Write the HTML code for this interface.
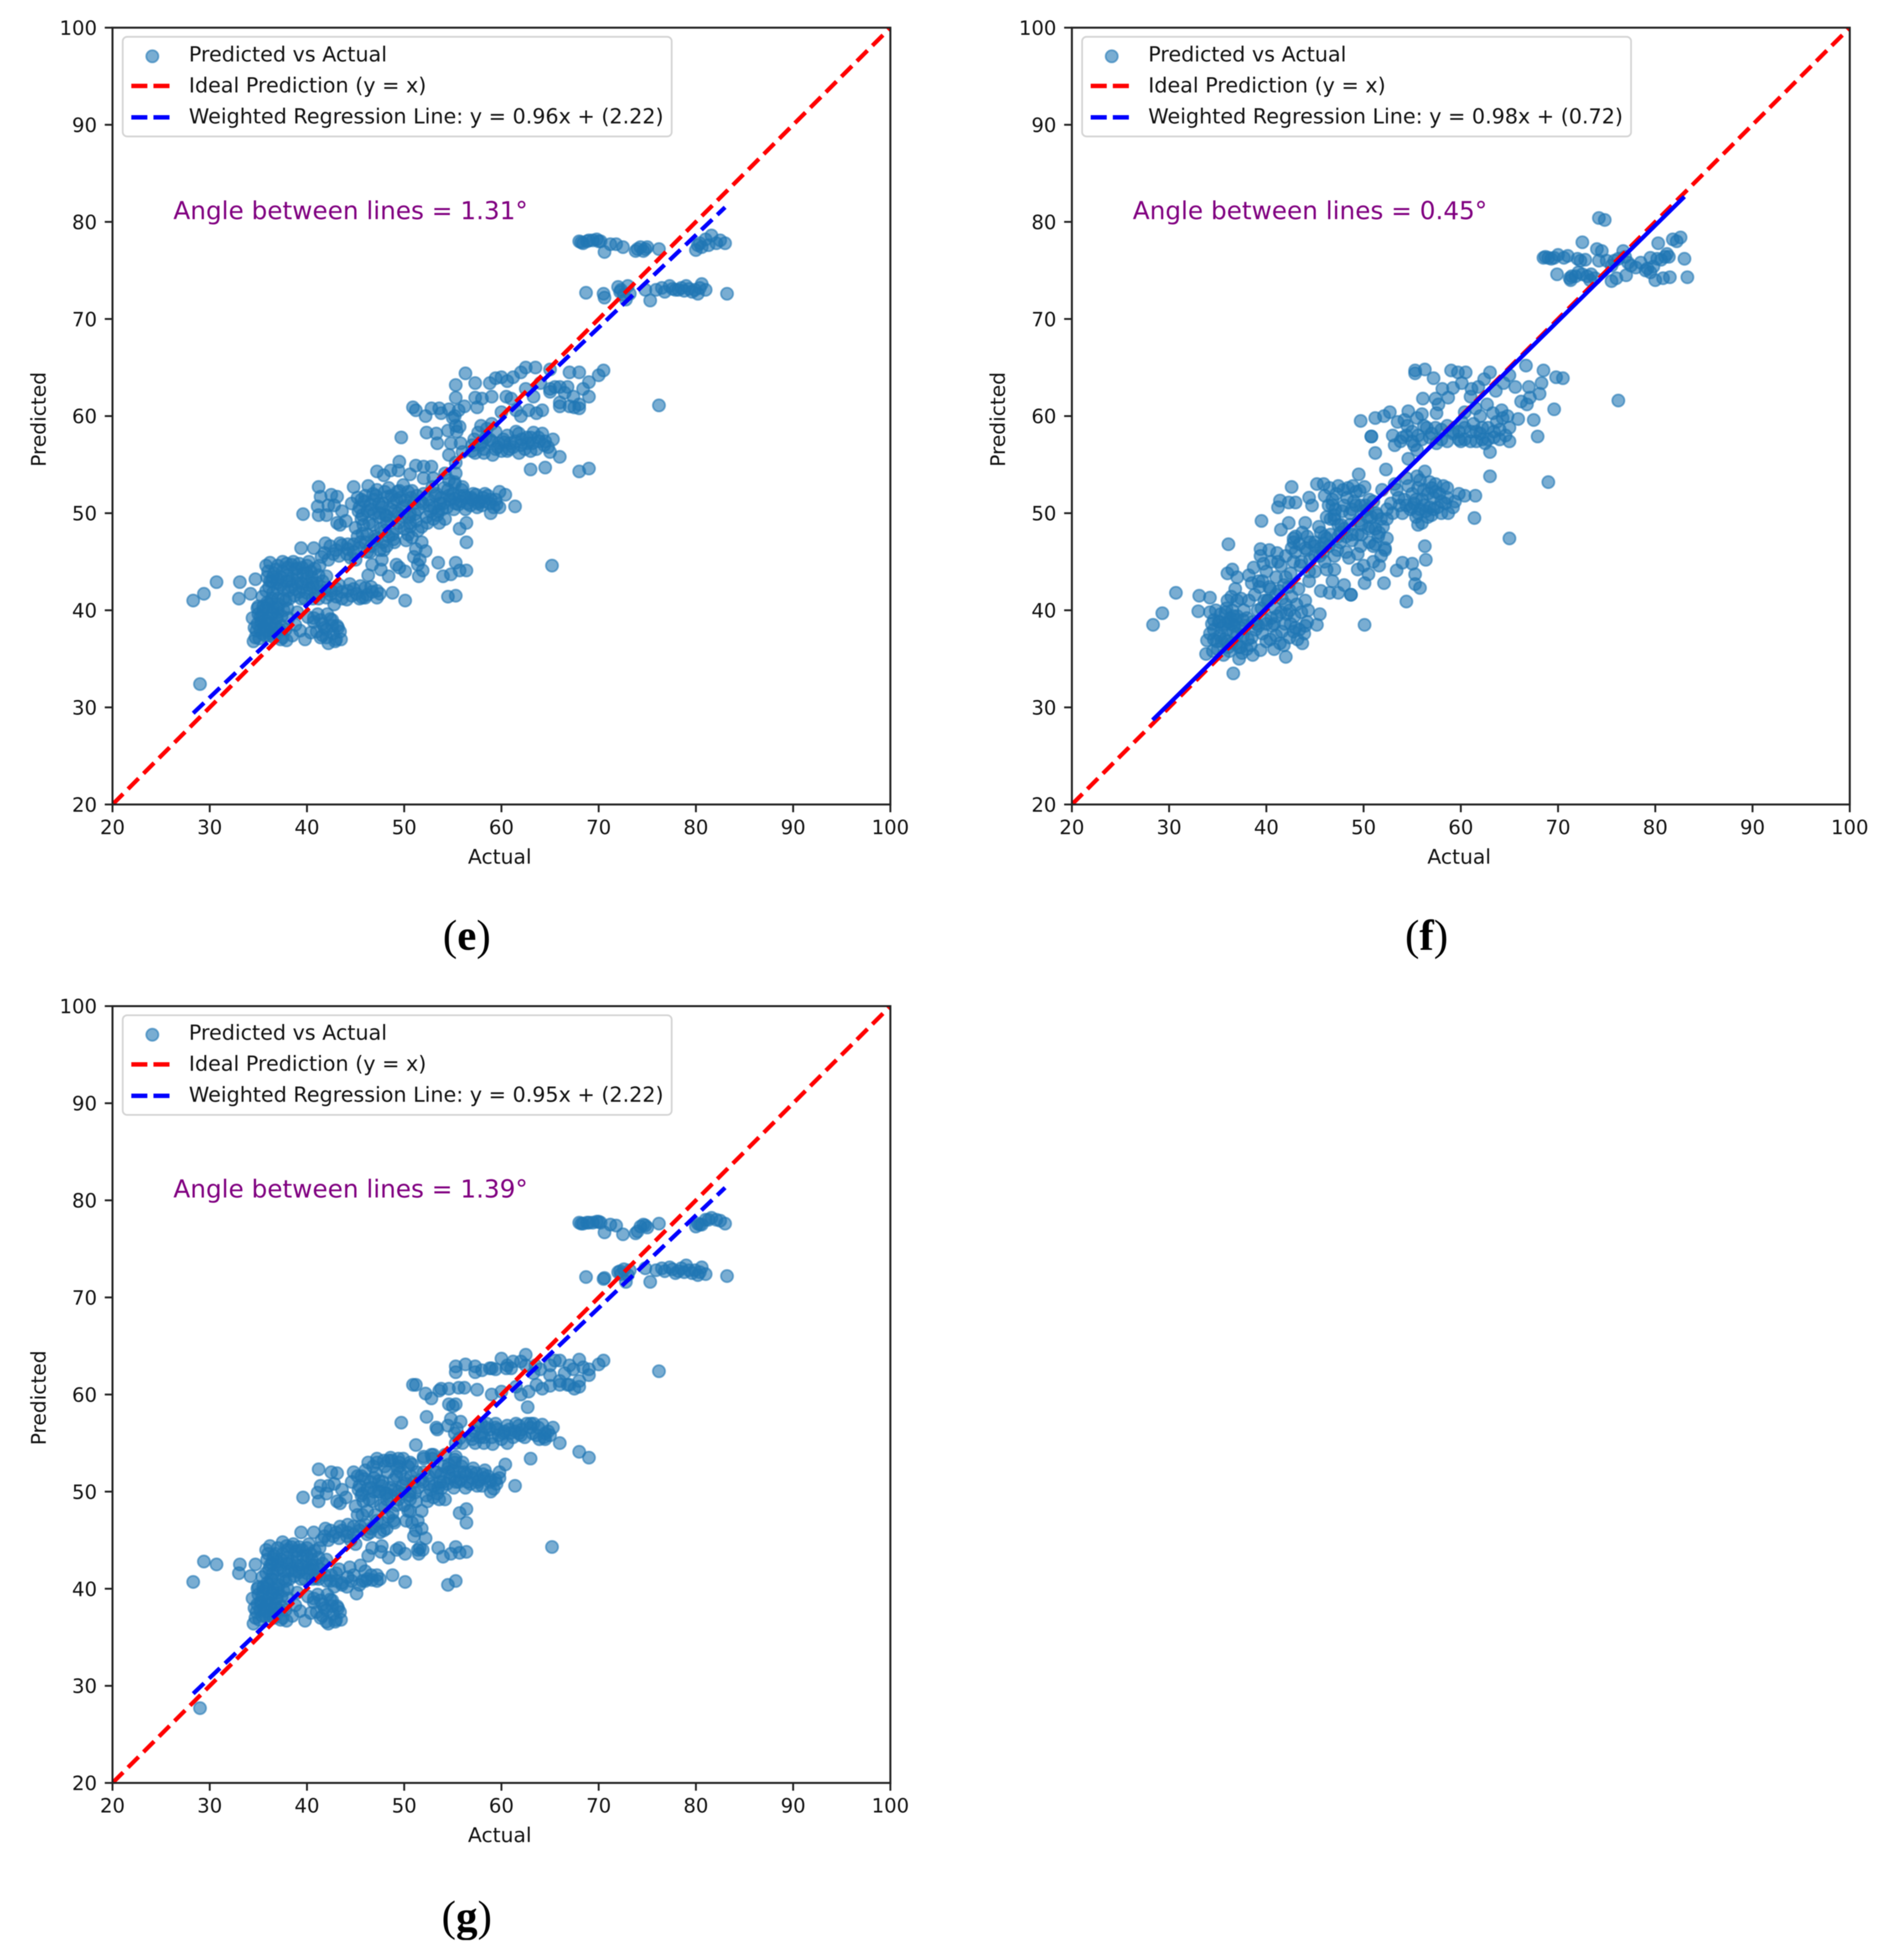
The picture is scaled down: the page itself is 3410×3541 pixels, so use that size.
<!DOCTYPE html>
<html lang="en">
<head>
<meta charset="utf-8">
<title>Predicted vs Actual scatter panels</title>
<style>
html,body{margin:0;padding:0;background:#fff;}
#figure{display:block;width:3410px;height:3541px;filter:blur(0.7px);}
text{font-family:"DejaVu Sans","Liberation Sans",sans-serif;fill:#111;}
.cap{font-family:"Liberation Serif",serif;fill:#000;}
</style>
</head>
<body>
<svg id="figure" xmlns="http://www.w3.org/2000/svg" width="3410" height="3541" viewBox="0 0 3410 3541"></svg>
<script>
const tickValues=[20,30,40,50,60,70,80,90,100];
const axisLimits=[20,100];
const idealLine=[20,100];
const regressionRange=[28.3,83];

const slopeLabelE="0.96";
const interceptLabelE="2.22";
const regressionEndsE=[29.4,81.5];
const angleE="1.31";
const slopeLabelF="0.98";
const interceptLabelF="0.72";
const regressionEndsF=[28.7,82.6];
const angleF="0.45";
const slopeLabelG="0.95";
const interceptLabelG="2.22";
const regressionEndsG=[29.2,81.3];
const angleG="1.39";

const actualE=[
28.3,29.4,30.7,33.1,34.7,33,34.2,29,34.5,35.2,
34.6,35,35.4,35.8,36.2,36.6,37,37.4,34.8,35.3,
35.7,36.1,36.5,36.9,37.3,35.5,36,36.4,36.8,37.6,
34.9,35.9,36.7,37.8,38.1,38.5,37.1,35.1,35.6,36.3,
38.8,39.3,39.8,40.1,40.7,41,41.4,41.8,42.2,42.6,
43,43.4,42.9,42.4,41.6,43.2,42,40.4,39,37.9,
35.8,36.2,36.6,37,37.5,38,38.4,38.8,39.2,39.6,
40,40.4,40.8,41.2,36.4,37.3,38.2,39,39.9,40.6,
35.9,37.9,36.9,38.6,41.6,42,40.2,41.3,36.1,39.4,
35.4,35.9,36.5,37,37.6,38.1,38.7,39.2,39.8,40.3,
40.9,41.4,42,42.5,43,43.6,44.1,44.6,45.1,45.7,
46.2,46.7,47.2,44.4,45.5,43.3,42.8,46,47.5,37.8,
48.8,50.1,54.5,55.3,47.6,48.4,46.3,46.7,47.7,49.2,
49.5,50.1,51.4,51.5,51.9,53.5,54,54.8,55.3,55.7,
56.4,52.2,50.8,51.2,51.6,50.6,51.4,51,51.8,45,
39.4,40.7,41.8,42.4,43,43.6,44.2,44.8,45.4,46,
46.6,47.2,47.8,48.4,48.9,42.2,43.3,44.5,41.5,45.7,
45,45.6,46.2,46.8,47.4,48,48.6,49.2,49.8,50.4,
44.8,45.4,46,46.6,47.2,47.8,48.4,49,49.6,50.2,
50.8,51.4,52,52.6,53.2,45.2,46.3,47.5,48.7,49.9,
51.1,52.3,53.5,46.9,48.1,49.3,50.5,51.7,52.9,44.6,
53.8,54.4,55,55.6,56.2,56.8,57.4,58,58.6,59.2,
54.1,54.7,55.3,55.9,56.5,57.1,57.7,58.3,58.9,59.5,
53.4,54.2,55.2,59.8,60.4,61.4,58.9,59.8,56.4,55.7,
56.4,39.6,41.2,41.4,41.1,41.2,42,42.5,43.1,43.1,
42.8,43.6,44,42.2,43.4,55.2,56,54.6,53,52,
47.2,47.9,48.6,49.5,49.4,51.2,50.6,52,52.8,54.2,
55.3,55.3,49.7,50.9,51.2,52.2,52.8,53.6,53.8,54.6,
55.6,56.2,55.3,56.3,57.3,55.3,57.3,57.5,52.3,53.3,
53.4,54.5,54.6,55,55.4,55.8,55.2,55.7,56,54.8,
57,57.6,58.2,58.8,59.4,60,60.6,61.2,61.8,62.4,
63,63.6,64.2,64.8,65.3,57.3,58.5,59.7,60.9,62.1,
63.3,64.5,58,59.1,60.3,61.5,57.9,59,62.7,63.9,
58.8,59.4,60,60.6,61.2,62,62.5,63.5,65,65.5,
66,67,68,69,70,70.5,69,66,67,68,
58,59,60,61,62,62.8,63.6,64.2,65,66.5,
67.5,68,66,68,69,63,64.5,65,76.2,65.2,
68,68.4,69,69.8,70.2,70.6,71.8,72.5,73.8,74.3,
74.8,76.2,80,80.6,81,81.6,82.1,82.5,83,80.4,
68.7,70.5,70.6,72,72.2,72.8,73.2,74.8,75.3,75.9,
76.5,77.3,78.5,79,79.6,80.2,80.6,81,83.2,77.9,
45.3,45.9,46.5,47.1,47.7,48.3,48.9,49.5,50.1,50.7,
45.6,46.2,46.8,47.4,48,48.6,49.2,49.8,50.4,51,
51.3,51.9,52.5,53.1,53.7,45.7,46.9,48.2,49.4,50.6,
54,54.6,55.2,55.8,56.4,57,57.6,58.2,58.8,59.4,
52.7,53.3,53.9,54.5,55.1,55.7,56.3,56.9,57.5,58.1,
45.2,45.8,46.4,47,47.6,48.2,48.8,49.4,50,50.6,
51.2,51.8,52.4,53,53.6,50.2,49,47.9,46.5,44.2,
41.9,42.7,43.4,44.1,44.8,45.5,46.2,46.9,47.5,48.2,
36,36.5,37,37.5,38,38.5,39,39.5,40,40.5,
36.2,36.8,37.3,37.9,38.4,39,39.5,40.1,40.6,41,
35.8,36.4,37,37.6,38.2,38.8,39.4,40,40.6,41.2,
41.8,42.4,43,43.6,44.2,44.8,45.4,46,46.6,47.2,
34.4,34.9,35.4,35.9,36.4,36.9,37.4,34.7,35.2,35.7,
36.2,36.7,37.2,35,35.5,36,36.5,37,37.5,38,
41.1,41.6,42.1,42.6,43.1,43.5,41.4,42,42.7,40.7,
57.2,57.8,58.4,59,59.6,60.2,60.8,61.4,62,62.6,
63.2,63.8,64.4,57,58.2,59.4,60.6,61.8,63,55.3,
60.5,61.5,62.5,63.3,64,65,66,66.8,67.4,68.4,
68.2,68.8,69.4,70,71.2,74,74.6,75,80.2,81.3,
72.3,72.6,73,76.8,77.6,78.2,78.8,79.3,79.9,80.4
];
const predictedE=[
41,41.7,42.9,42.9,43.2,41.2,41.7,32.4,36.8,39.3,
38.2,39.6,37.6,40.2,38.6,37.2,39.8,38.4,37.9,38.8,
39,37.4,40.3,38.2,37,40.4,39.2,38,39.2,40,
40.2,37.9,37.6,38,39.2,37.4,40.6,37.1,38.3,41,
38.5,37.9,37,39.3,38.8,37.8,39,38.2,36.6,38.4,
37,37.8,36.8,39.1,37.4,38.2,38,37.7,39.8,36.9,
44.6,44.9,43.8,44.6,45,43.6,44.7,44.2,44.8,43.8,
44.6,44,44.3,43.6,43,43.4,43,44.3,43.2,42.8,
43.4,44.8,42.8,45,43,43.5,45,44.6,42.4,42.8,
41.4,40.8,41.8,42.2,41.2,42,41.5,41.9,41.2,42.2,
41.5,42.4,41.3,42,41.4,41.9,41.1,41.5,41.7,41.3,
41.6,41.9,42,42.7,42.5,42.6,40.6,42.3,41.7,41,
41.8,41,41.4,41.5,44.2,43.5,43.6,44.7,45.2,44.7,
44.4,44,44.7,43.5,44.1,44.9,43.5,43.7,44.9,44.1,
44.1,46.1,47.5,46.3,45.2,48.6,48.2,45.5,47,45.2,
46.4,46.4,45.9,46.6,46.2,46.7,46.3,46.8,46.4,47,
46.6,47.4,47,47.6,47.3,45.2,45.6,45.4,45.5,47.9,
48.5,49.4,47.8,48.8,49.6,48.2,49.3,48.4,49.7,47.8,
52.7,50.6,51.8,50.4,52.4,51,52.6,50.2,51.6,50.8,
52.3,50.4,52,50.8,51.8,51.6,52.8,50,51.8,52.9,
49.9,49.6,50.2,51.4,49.8,52.2,49.6,51.2,52.7,51,
51.6,50.6,52,50.9,51.8,50.8,51.9,50.8,51.8,50.6,
52.6,51.4,51,52.4,51,52,51.2,52,51.4,50.9,
49.8,49.4,53,52.2,51.9,50.7,50,50.6,49,48.4,
47,49.9,52.7,51.7,50.7,49.8,49.8,51.9,51.7,49,
50.8,50.2,49.2,50.8,48.8,53.2,52.7,53.4,53.6,53.6,
54.3,53.9,54.4,55.3,54.4,54.9,54,54.8,54.8,54.1,
54.1,55.2,57.8,60.9,60.6,60,60.8,60.8,60.3,60.7,
60.6,61,63.2,64.4,63.4,61.9,61.9,60.9,58.3,58.2,
57.2,58.5,56,59.8,58.4,57.2,60,58.9,56.3,57.2,
57,58.3,56.2,57.6,58.4,56.4,58,56.8,58.2,56.6,
57.8,56.6,58.2,56.8,57.6,56.2,58.7,57.2,57.2,57.6,
58.3,57.4,57.3,56,57.3,58.4,59,59.2,57.2,57.4,
63.4,63.9,64,63.6,64,64.5,65,65,64.8,63,
63,64.5,64.5,63.5,64.2,64.7,62,61,61,61.2,
61.8,62,60.4,61.8,60,60.6,60.3,60.6,62.5,62.4,
60.9,60.8,55.8,54.3,54.6,54.5,54.7,56.3,61.1,44.6,
78,77.8,78.1,78.2,78,76.9,77.7,77.4,77,77.4,
77.2,77.2,77.1,77.4,78.2,78.6,77.8,78.1,77.8,77.8,
72.7,72.6,72.2,73.3,72.8,72,72.6,73,71.9,73,
73.2,73.4,73.2,73.4,72.8,72.6,73.6,73,72.6,73,
50.2,51.2,50.9,51.8,50.6,51.7,51.1,52.3,51.3,51.6,
51.4,50.2,52,51,52.2,50.4,51.4,50.6,52.2,51,
51.8,51,51.4,50.6,51,49.8,50,49.7,50,49.9,
51,51.8,51.5,51.2,51.6,51.4,51,51.2,51,51.4,
50.2,52,50.4,52.4,50.4,51.8,50.4,51.6,50.6,51.6,
47.6,48.8,49,47.6,48.4,49,47.8,49,48.4,49,
49.2,48.6,49,49.4,49,47.2,47,46.2,46,46.8,
46.9,45.8,46.9,45.8,46,47,46,47.2,46.2,46.6,
44,43.4,43.2,44,44.4,43.2,43.6,44.4,43.8,43.4,
43,44.2,42.6,43,42.4,42.8,42.4,42.6,42.4,42.8,
42,41.2,41.2,42.2,41.2,42.2,41.2,41.8,41.2,41.2,
42,41.6,42.2,41.2,42,42.2,41.2,41.3,42.4,41.3,
39.2,38.6,39.4,38.6,39.6,39.2,39.4,37.2,38,37.4,
37.6,38.4,38,40.4,40,40.6,39.8,40.2,37.2,40.2,
39.6,38.6,39.6,39,38.4,37,37.2,37.2,37.6,39.2,
57.6,57,57.8,57.4,56.8,57.6,56.6,57.4,57,57.8,
57.2,57.8,57,56.4,56.6,56.6,56.4,56.2,56.4,59,
62,60.6,62.8,62,63.4,62.8,61.4,63,62,62.8,
77.9,78,78.1,78,77.7,77.2,77,77.4,77.6,77.6,
73,72.5,73.4,72.8,73.1,73,72.9,73.1,73,73.2
];

const actualF=[
28.35,29.3,30.7,33.1,34.2,33,36.1,36.6,42,38.6,
50.1,54.4,52.1,48.7,65,69,63,61.4,61.5,60.4,
34.2,34.6,35,35.4,35.8,36.2,36.6,37,37.4,37.8,
34.4,34.9,35.3,35.7,36.1,36.5,36.9,37.3,37.7,38.1,
34.8,35.2,35.6,36,36.4,36.8,37.2,37.6,34.5,38,
35.1,36.3,33.9,33.8,34.2,35.9,36.7,37.5,34.6,36.1,
38.4,38.9,39.4,39.9,40.4,40.9,41.4,41.9,42.4,42.9,
43.4,43.9,44.2,38.6,39.1,39.6,40.1,40.6,41.1,41.6,
42.1,42.6,43.1,43.6,38.2,38.8,39.3,39.8,40.3,40.8,
41.3,41.8,42.3,42.8,43.3,44,44.3,43.7,45.2,45.5,
36,36.5,37,36.8,36.4,37.4,38.2,38.7,39.2,39.7,
38.5,39.4,39.4,40,40.5,41,41.5,42,42.5,43,
43.5,44,44.5,45,45.5,41.1,42.8,44.2,40.3,45.9,
44.4,45,45.6,46.2,46.8,47.4,48,46.5,47,48.7,
46.4,47,47.6,48.2,48.8,49.4,47.3,48.5,49.7,46,
45.6,46.2,46.8,47.4,48,48.6,49.2,49.8,50.4,51,
46.5,47.1,47.7,48.3,48.9,49.5,50.1,50.7,51.3,51.9,
47,47.9,48.8,49.7,50.6,51.5,52.4,46.4,45.9,52,
49.5,52.3,44.4,44.7,45.2,41.4,41.2,43,42.3,42.3,
39.5,42.6,41.5,43,43.7,44.5,45.4,46,42.8,44,
52.8,53.4,54,54.6,55.2,55.8,56.4,57,57.6,58.2,
55,55.6,56.2,56.8,57.4,58,58.6,59.2,59.8,53.7,
55.4,56,56.6,57.2,54.4,53.2,58.7,55.5,56.3,59.4,
50.5,51.2,51.8,52.4,51,51.6,52.2,50,49.4,50.1,
50.5,53.4,54,55,55.3,55.3,55.8,56.3,56.4,55.6,
53,53.5,54,54.5,55,55.5,56,56.5,57,57.5,
58,58.6,59.2,59.8,60.4,61,61.6,62.2,62.8,63.4,
64,64.6,65,53.2,54.2,55.2,60.1,61.3,62.5,63.7,
64.3,64.8,49.7,51.2,52.1,52.7,50.8,50.8,51.2,54.6,
56,57.5,54.6,55.5,55.3,56.3,57.2,59,59.7,60.5,
55.3,58.1,56.1,57.4,58.7,57.7,59.2,60.1,61.1,62.4,
63,65,66.7,68.5,69.8,70.5,68.3,65.6,67,63.6,
68.1,67.1,66.2,66.8,69.6,64.2,63.3,62.7,65.9,67.5,
63,65,67.9,76.2,60.4,61.5,61,61.8,62,64.4,
68.5,69,69.6,70,70.6,71,69.9,71.4,71.3,72.5,
73,73.3,72.3,72.8,72.5,74.2,74.8,74,74.5,74.2,
75,75.5,76.2,76.7,75.5,76,77,77.5,78,79,
79.5,79.5,80,80.2,80.3,80.8,81,81.2,81.5,81.8,
82.2,82.6,83,83.3,77.2,78.5,71.8,72,73.8,79.8,
38.5,39,39.5,40,40.5,41,41.5,42,42.5,43,
39.2,40,40.8,41.6,42.4,43.2,44,38,37,36,
39.6,40.4,41.2,42,42.8,43.6,44.4,45,45.6,46.2,
40.2,41,41.8,42.6,43.4,44.2,45,45.8,46.6,47.4,
47,47.6,48.2,48.8,49.4,50,50.6,51.2,51.8,52.4,
46,46.6,47.2,47.8,48.4,49,49.6,50.2,50.8,51.4,
46.8,47.4,48,48.6,49.2,49.8,50.4,51,51.6,52.2,
53,53.6,54.2,54.8,55.4,56,56.6,57.2,57.8,58.4,
54.4,55,55.6,56.2,56.8,57.4,58,58.6,55.8,57,
53.8,54.4,55,55.6,56.2,56.8,57.4,58,58.6,59.2,
59.8,60.4,61,61.6,62.2,62.8,63.4,64,60,62,
34.6,35.2,35.8,36.4,37,37.6,35.4,36,36.6,37.2,
68.7,69.3,71.2,72.1,73.4,75.8,76.9,79.2,80.6,81.4
];
const predictedF=[
38.5,39.7,41.8,41.5,41.3,39.9,46.8,33.5,35.2,35.4,
38.5,40.9,42.8,41.6,47.4,53.2,53.8,49.5,51.8,51.8,
37.6,39,36,38.2,39.8,35.8,37.8,39.4,36.2,38.4,
38.6,36.8,39.6,37,38.8,40,36.6,38.2,40,37,
40,37.4,35.4,38,36.6,39,35,37.4,35.8,39.2,
38.8,39.2,36.9,35.5,39.8,40.2,38.4,35.6,38,36.2,
36.4,38,35.9,39,37,40.2,36.6,38.6,37.2,39.4,
38,37.6,38.8,38.8,40,37.6,41,38.4,39.4,41.2,
39.6,41.4,40.6,39.8,41,41.6,42.4,41,42.4,36,
42,36.4,42.4,37.8,42.2,41,40,36.6,38.5,39.6,
43.8,44.2,43.4,42.2,41.4,41.2,43.6,44.4,43,44.8,
42.8,46.3,45.6,44,45,43.4,44.6,45.6,43.8,46,
44.6,46.4,45.2,47,45.6,45.9,47,47.6,46.2,46.9,
43,44,42,44.2,43,41.8,42.6,41.8,44.2,41.6,
46.6,45.6,47,46,47.2,45.8,46.2,45.4,46.6,45,
48,49.6,51.4,52.8,48.4,50,52.2,47.8,49.6,51.2,
52.6,50.4,48.8,51.6,52.8,49.2,52.7,48.6,50,52.4,
49.4,52.4,47.8,50.8,51.4,47.6,50.4,50.8,53,48.6,
54,54.5,51.6,50.8,53,51.3,50.6,51.1,51.1,49,
49.2,52.7,48.3,47.6,48,47,48.6,47.6,47.4,49,
51,52.4,50,52.8,51,53.4,50.2,52.6,50.6,52.8,
52,50,52.4,50.6,53,51.2,51.6,50.6,52,50.8,
49.6,49,49.6,51.6,53.6,53,50,53.8,54.3,51.2,
48.4,46.8,45.6,47.4,45,44.6,46.2,44.6,44.2,42.8,
43.7,44.1,44.9,44.8,43.7,42.7,42.3,46.6,45.2,48.8,
58,59.4,57.8,59,58.4,59.8,57.6,58.8,58.2,57.2,
58.6,57.4,58.2,57.6,58.8,57.4,58.4,57.6,58.8,57.8,
58.6,58,58.8,57,59.6,57,59.4,59.2,57.2,59.4,
59.8,60,59.5,59.8,60,60.4,57.9,57.9,56.2,60.5,
60.2,60.3,55.6,56.5,64.7,64.8,63.9,64.7,64.5,64.5,
64.4,62.8,61.8,61.8,61.9,61.2,62.9,63.4,62.8,63.8,
64.5,64.2,65.2,64.7,64,63.9,63.4,63,63,62.6,
62.3,61.9,61.5,61.2,60.7,60.6,60.3,61.2,59.7,59.6,
56.3,57.4,57.9,61.6,60.4,60.8,62,63,60,63.4,
76.3,76.3,76.3,76.6,76.3,76.5,74.6,74.4,74,74.6,
74.4,74,76,76.1,77.9,80.4,80.2,77.2,77,76,
76,75.5,76.2,77,73.9,74.2,74.5,75.5,75.3,75,
74.8,76.3,74,76.2,77.8,74.2,76.4,76.7,74.3,78.2,
78,78.4,76.2,74.3,75.8,75.8,74.4,76.2,74.2,75.4,
37.2,38.6,40.2,36.8,39.2,37.4,39.8,40.6,38.6,38.2,
38.4,38.6,38.6,37.8,40,37,38.4,36,41,41,
43,42.2,45,43.4,45,45,44,45.6,46.4,47.4,
41,41.6,42.6,46.4,46.8,46.2,46.6,46,47.8,47.6,
49.8,48,47.6,50.4,47.8,50.2,47,48.4,49.4,49.4,
51.8,49.4,52,50.2,52.6,51.2,52.3,50.8,49.6,49.8,
50.8,48.8,50.8,48.8,50.8,48.8,50.4,46.6,48,46.4,
50,51.6,51.4,50.4,51.4,51.4,52,50.4,52,51,
50.8,50.6,52.6,50.8,53.2,52.2,50,52.6,50.4,49.8,
57.4,58,57.4,58,59,57.8,58.8,57.6,59,58.4,
58.4,57.6,58.4,57.4,58.8,57.6,58.4,57.6,57.4,58.2,
37,38.8,38.6,38.6,37.6,39,36.8,36.8,39.4,36.2,
76.4,76.2,74.2,74.8,74.6,76,76.4,75.2,76.1,76.4
];

const predictedG=[
40.7,42.8,42.5,42.5,42.5,41.6,41.3,27.7,36.4,38.6,
38,39.4,37.2,40,38.4,37,39.6,38.2,37.6,38.6,
38.8,37.2,40,38,36.8,40.2,39,37.8,39,39.8,
40,37.7,37.4,37.8,39,37.2,40.4,36.8,38,41,
38.3,37.7,36.7,39.2,38.6,37.6,38.8,38,36.4,38.2,
36.8,37.6,36.6,38.9,37.2,38,37.8,37.5,39.6,36.7,
44,44.4,43.4,44.2,44.8,43.2,44.3,43.8,44.3,43.4,
44.2,43.6,43.9,43.2,42.6,43,42.6,43.9,42.8,42.4,
43,44.4,42.4,44.6,42.6,43,44.6,44.2,42,42.4,
41.2,40.6,41.6,42,41,41.8,41.3,41.7,41,42,
41.1,42,40.8,41.4,40.8,40.6,40.2,40.8,39.5,40.8,
41,40.9,41.4,42.2,42.4,42,40.2,41.8,41,40.8,
41.4,40.7,40.4,40.8,43.8,43.2,43.4,44.2,44.4,44,
44.2,43.6,44,43.6,44,44.2,43.3,43.6,44.3,43.7,
43.8,45.2,46.8,46,44.2,48,47,45.4,46.2,44.6,
45.8,45.8,45.4,46,45.8,46,45.8,46.4,46,46.6,
46.2,47,46.8,47.4,47,45,45.2,45,45,47.6,
48.5,49.6,48,49,50,48.4,49.6,48.6,49.8,48,
52,50.6,52.2,50.4,53,51,53.2,50.2,52,50.8,
52.8,50.4,52,50.8,52,51.6,53,50,53.2,53.4,
49.9,49.6,50.4,51.4,49.8,52.4,49.6,51.2,53.4,51,
51.8,50.8,52.2,51,52,50.8,51.9,50.6,51.6,50.3,
52.6,51.4,51,52.6,51,52.4,51.2,52.2,51.2,50.8,
49.8,49.2,53,52,52.8,50.6,50,51.4,48.2,47.8,
46.8,49.4,52.3,50.6,49.9,49,49.8,52,51.9,49,
50.8,50.2,49.4,50.6,48.8,53.3,53,52.8,53.8,53.6,
53.4,53.2,53.5,53,53.4,54.8,53,53.4,53.8,53.8,
53.6,55,57.1,61,61,60.1,59.6,60.4,60.6,60.6,
60.7,60.7,62.9,63.1,62.9,62.3,62.3,60.5,57.7,56.6,
56.4,56.8,59,58.8,56.5,57.2,56,55.5,55,57.5,
55.8,56.8,55,56.4,57,55.4,56.8,55.6,56.8,55.6,
56.6,55.8,56.9,56.2,56.6,55,57,55.8,56,56.4,
57,56,56,54.9,56.2,57,57,60,58.7,55.4,
62.7,62.6,63.7,63,63.4,63.4,64.1,63,63,63.5,
63.5,63,63.6,62.6,63.1,63.5,62,61,61,61.4,
62.5,62.7,60.3,62.7,60,60.3,61,60.6,62,62.2,
60.6,60.8,55,54.1,53.5,53.4,55.4,55.8,62.4,44.3,
77.7,77.6,77.7,77.8,77.7,76.7,77.4,76.5,76.6,77.3,
77.4,77.6,77.3,77.5,78,78.2,78,77.9,77.6,77.5,
72.1,71.9,72,72.6,72.7,71.6,72.8,73,71.6,72.8,
73,73.1,73,73.3,72.5,72.3,73.1,72.4,72.2,72.5,
50.2,51.3,51,51.9,50.6,52,51.2,52.6,51.3,51.6,
51.6,50.3,52.6,51.1,52.6,50.4,51.6,50.6,52.6,51,
52,51,51.6,50.6,51,49.8,50,49.8,50,50,
51,52,51.5,51.2,51.8,51.4,51,51.4,51,51.2,
50.2,52,50.4,52.4,50.4,52,50.4,52,50.6,51.8,
47.6,49,49.2,47.6,48.6,49.2,47.8,49.2,48.6,49.2,
49,48,49,49.4,49.2,47,46.8,46,45.8,46.6,
46.2,45.4,46.4,45.4,45.6,46.4,45.6,46.4,45.8,46.2,
43.6,43,42.8,43.6,44,42.8,43.2,44,43.4,43,
42.4,43.6,42.2,42.6,42,42.4,42,42.2,42,42.4,
41.6,41,41,41.8,41,41.8,41,41.6,41,41,
41.4,40.8,41.6,40.4,41.2,41.4,40.4,40.8,41.4,40.8,
39,38.4,39.2,38.4,39.4,39,39.2,37,37.8,37.2,
37.4,38.2,37.8,40.2,39.8,40.4,39.6,40,37,40,
39.4,38.4,39.4,38.8,38.2,36.8,37,36.6,37.4,39,
56.2,55.6,56.6,55.6,56.4,56,56.4,56.2,55.8,57,
56,56.6,55.6,55.4,55.6,56.6,55,56,57,59,
62.7,60.8,63,62.2,62.6,60.9,61.4,61,62.6,62.8,
77.6,77.7,77.7,77.8,77.5,76.8,77.5,77.2,77.6,78,
72.4,72.9,72.3,72.7,72.9,72.7,72.6,72.8,72.8,72.6
];

const NS='http://www.w3.org/2000/svg';
const svg=document.getElementById('figure');
const AXW=1405.7, AXH=1403.4;
const BLUE='#1f77b4';

function make(tag,attrs,parent,txt){
  const e=document.createElementNS(NS,tag);
  for(const k in attrs){e.setAttribute(k,attrs[k]);}
  if(txt!==undefined){e.textContent=txt;}
  parent.appendChild(e);
  return e;
}

function drawPanel(key,ox,oy,actual,predicted,slopeLabel,interceptLabel,regressionEnds,angle,blueDash,capLetter,capX,capY){
  const sx=v=>ox+(v-axisLimits[0])/(axisLimits[1]-axisLimits[0])*AXW;
  const sy=v=>oy+AXH-(v-axisLimits[0])/(axisLimits[1]-axisLimits[0])*AXH;
  const g=make('g',{},svg);
  
  

  const clipId='clip-'+key;
  const defs=make('defs',{},g);
  const clip=make('clipPath',{id:clipId},defs);
  make('rect',{x:ox,y:oy,width:AXW,height:AXH},clip);

  const pts=make('g',{'clip-path':'url(#'+clipId+')'},g);
  
  
  const n=Math.min(actual.length,predicted.length);
  for(let i=0;i<n;i++){
    const c=make('circle',{cx:sx(actual[i]),cy:sy(predicted[i]),r:11,fill:BLUE,'fill-opacity':0.6,stroke:BLUE,'stroke-opacity':0.6,'stroke-width':3.2},pts);
    
    
  }

  const ideal=make('line',{x1:sx(idealLine[0]),y1:sy(idealLine[0]),x2:sx(idealLine[1]),y2:sy(idealLine[1]),stroke:'#ff0000','stroke-width':7.6,'stroke-dasharray':'27 12.6','clip-path':'url(#'+clipId+')'},g);
  
  

  const reg=make('line',{x1:sx(regressionRange[0]),y1:sy(regressionEnds[0]),x2:sx(regressionRange[1]),y2:sy(regressionEnds[1]),stroke:'#0000ff','stroke-width':7.6,'stroke-dasharray':blueDash,'clip-path':'url(#'+clipId+')'},g);
  
  

  const frame=make('rect',{x:ox,y:oy,width:AXW,height:AXH,fill:'none',stroke:'#222','stroke-width':3.6},g);
  
  

  tickValues.forEach(v=>{
    const tx=make('line',{x1:sx(v),y1:oy+AXH,x2:sx(v),y2:oy+AXH+14,stroke:'#222','stroke-width':3.4},g);
    
    
    const lx=make('text',{x:sx(v),y:oy+AXH+53.5,'font-size':35.5,'text-anchor':'middle'},g,String(v));
    
    
    const ty=make('line',{x1:ox-14,y1:sy(v),x2:ox,y2:sy(v),stroke:'#222','stroke-width':3.4},g);
    
    
    const ly=make('text',{x:ox-28,y:sy(v)+13,'font-size':35.5,'text-anchor':'end'},g,String(v));
    
    
  });

  const xt=make('text',{x:ox+AXW/2-3,y:oy+AXH+107,'font-size':36.7,'text-anchor':'middle'},g,'Actual');
  
  
  const yc=oy+AXH/2+6;
  const yt=make('text',{x:ox-121,y:yc,'font-size':36.5,'text-anchor':'middle',transform:'rotate(-90 '+(ox-121)+' '+yc+')'},g,'Predicted');
  
  

  const lg=make('g',{},g);
  
  
  const box=make('rect',{x:ox+18.5,y:oy+16.5,width:992,height:180,rx:8,ry:8,fill:'#fff',stroke:'#d4d4d4','stroke-width':3.2},lg);
  
  
  const mk=make('circle',{cx:ox+72,cy:oy+51.7,r:11,fill:BLUE,'fill-opacity':0.6,stroke:BLUE,'stroke-opacity':0.6,'stroke-width':3.2},lg);
  
  
  const lr=make('line',{x1:ox+34,y1:oy+105.3,x2:ox+103,y2:oy+105.3,stroke:'#ff0000','stroke-width':8,'stroke-dasharray':'29 11'},lg);
  
  
  const lb=make('line',{x1:ox+34,y1:oy+162,x2:ox+103,y2:oy+162,stroke:'#0000ff','stroke-width':8,'stroke-dasharray':'29 11'},lg);
  
  
  const t1=make('text',{x:ox+138,y:oy+61,'font-size':37.4},lg,'Predicted vs Actual');
  
  
  const t2=make('text',{x:ox+138,y:oy+117,'font-size':37.4},lg,'Ideal Prediction (y = x)');
  
  
  const t3=make('text',{x:ox+138,y:oy+173,'font-size':37.4},lg,'Weighted Regression Line: y = '+slopeLabel+'x + ('+interceptLabel+')');
  
  

  const at=make('text',{x:ox+110,y:oy+346,'font-size':44.7,style:'fill:#800080'},g,'Angle between lines = '+angle+'°');
  
  

  const cap=make('text',{x:capX,y:capY,'font-size':78,'text-anchor':'middle',class:'cap'},g);
  
  
  make('tspan',{},cap,'(');
  make('tspan',{'font-weight':'bold'},cap,capLetter);
  make('tspan',{},cap,')');
}

drawPanel('e',203.3,50,actualE,predictedE,slopeLabelE,interceptLabelE,regressionEndsE,angleE,'27 12.6','e',843.5,1716);
drawPanel('f',1937,50,actualF,predictedF,slopeLabelF,interceptLabelF,regressionEndsF,angleF,'none','f',2578,1716);
drawPanel('g',203.3,1817.7,actualE,predictedG,slopeLabelG,interceptLabelG,regressionEndsG,angleG,'27 12.6','g',843.5,3488);
</script>
</body>
</html>
